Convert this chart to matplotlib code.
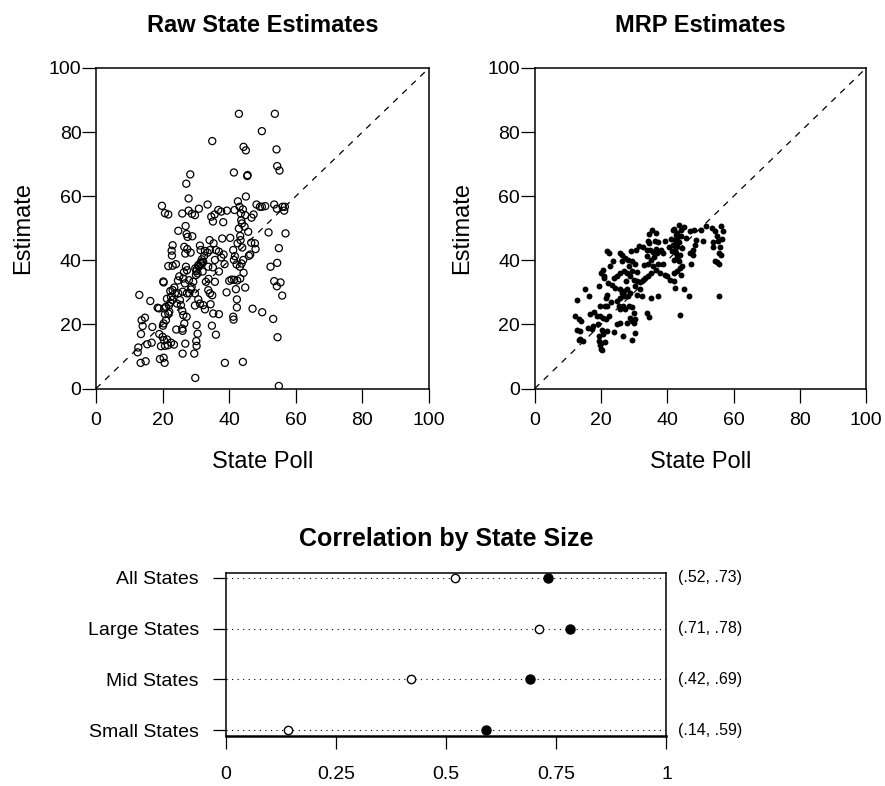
import numpy as np
import matplotlib.pyplot as plt

plt.rcParams['font.family'] = ['Liberation Sans', 'DejaVu Sans']

# Raw state estimates: state poll (x) vs raw estimate (y)
raw_poll = [42.9, 53.7, 49.8, 34.9, 44.3, 45.0, 54.2, 54.4, 55.1, 41.4, 45.4, 45.5, 28.3, 27.1, 27.8,
            45.0, 19.8, 20.7, 21.7, 25.9, 27.8, 28.8, 29.7, 30.9, 33.5, 34.6, 35.6, 36.7, 37.6, 38.2,
            39.3, 35.1, 41.6, 42.6, 43.1, 43.5, 44.1, 44.8, 47.3, 46.7, 48.2, 49.2, 49.8, 50.8, 53.5,
            54.3, 56.0, 56.7, 56.5, 56.9, 51.8, 54.9, 54.4, 52.4, 53.5, 54.3, 55.4, 55.9, 53.2, 54.5,
            54.9, 24.7, 26.9, 27.2, 27.5, 23.0, 22.7, 22.8, 21.7, 23.0, 24.0, 26.5, 26.8, 27.4, 28.4,
            31.2, 31.4, 32.5, 31.8, 31.4, 30.7, 29.8, 30.1, 30.5, 32.7, 33.5, 34.2, 34.1, 35.3, 36.0,
            36.9, 37.9, 35.7, 35.1, 36.9, 38.6, 37.6, 38.3, 41.2, 41.7, 41.4, 42.2, 43.2, 43.7, 44.2,
            42.5, 43.3, 43.4, 42.9, 43.8, 43.6, 45.7, 46.6, 47.7, 47.9, 45.9, 46.3, 44.3, 43.3, 42.4,
            40.7, 40.0, 41.5, 44.8, 20.2, 20.3, 24.6, 26.2, 26.4, 27.3, 27.0, 26.7, 26.0, 25.2, 25.5,
            25.9, 26.2, 27.2, 26.5, 25.9, 26.0, 30.2, 30.5, 30.1, 30.2, 29.5, 26.8, 26.0, 24.1, 23.0,
            22.3, 22.5, 22.3, 21.9, 21.0, 20.7, 21.0, 20.3, 20.1, 19.0, 20.0, 20.4, 21.3, 21.6, 22.5,
            23.4, 19.5, 20.7, 19.2, 20.6, 20.3, 18.5, 18.9, 20.5, 21.7, 16.3, 13.0, 13.7, 14.7, 14.0,
            13.5, 16.9, 15.4, 16.7, 12.7, 12.5, 13.4, 14.9, 29.7, 30.7, 31.2, 32.2, 29.7, 32.7, 33.7,
            34.2, 34.9, 34.4, 35.2, 36.9, 34.8, 36.0, 39.2, 41.2, 41.3, 42.3, 42.3, 47.0, 49.9, 38.7,
            44.1, 29.8, 32.2, 33.7, 35.7, 33.8, 33.0, 30.0, 29.2, 27.9, 28.7, 28.0, 27.3, 28.5, 24.7,
            23.7, 22.9, 30.2, 30.9, 31.5, 31.9, 21.3, 22.0, 23.5, 24.3, 25.0, 28.9, 32.0, 43.9, 44.6,
            40.3, 42.0]
raw_est = [85.7, 85.7, 80.3, 77.2, 75.4, 74.3, 74.6, 69.4, 68.0, 67.4, 66.3, 66.6, 66.8, 63.9, 59.3,
           59.9, 57.0, 54.7, 54.3, 54.6, 55.5, 54.5, 54.1, 56.1, 57.4, 53.6, 54.3, 55.7, 55.2, 51.9,
           55.5, 52.1, 55.7, 58.4, 56.7, 54.6, 55.9, 54.1, 54.3, 53.3, 57.4, 56.7, 56.7, 56.9, 57.4,
           56.1, 56.7, 56.7, 55.5, 48.4, 48.7, 43.8, 39.2, 38.0, 33.5, 31.9, 33.1, 29.0, 21.7, 16.0,
           0.8, 49.2, 50.7, 48.2, 47.3, 44.7, 43.0, 41.5, 38.2, 38.3, 38.8, 44.2, 42.1, 43.5, 42.4,
           44.6, 43.2, 41.4, 40.3, 39.3, 38.5, 37.5, 36.6, 35.9, 42.9, 42.4, 43.2, 46.3, 45.3, 43.2,
           42.7, 46.8, 40.1, 37.8, 36.5, 38.8, 40.9, 41.8, 43.2, 41.3, 40.1, 38.7, 38.0, 39.0, 40.1,
           45.3, 47.6, 46.3, 49.9, 51.5, 52.5, 48.9, 45.5, 45.3, 43.5, 41.4, 41.8, 36.1, 34.3, 33.7,
           34.0, 33.6, 33.9, 31.5, 33.4, 33.1, 33.7, 34.3, 36.3, 36.9, 38.0, 32.8, 30.2, 27.6, 26.0,
           24.2, 22.9, 22.4, 20.3, 18.7, 18.0, 19.8, 17.1, 14.8, 13.3, 10.9, 14.0, 10.9, 18.4, 30.7,
           30.4, 28.6, 26.8, 25.9, 25.5, 23.2, 21.3, 20.3, 19.6, 17.0, 16.1, 15.1, 15.3, 13.5, 14.3,
           13.7, 13.2, 13.3, 9.2, 8.0, 9.6, 25.2, 25.0, 25.0, 23.4, 27.3, 29.2, 21.3, 22.1, 19.5,
           17.0, 19.2, 13.8, 14.3, 12.8, 11.3, 8.0, 8.5, 29.7, 27.8, 26.5, 26.0, 25.9, 24.7, 30.7,
           29.7, 29.1, 26.3, 23.4, 23.2, 19.6, 16.8, 30.0, 22.4, 21.5, 27.8, 25.3, 24.9, 23.8, 8.0,
           8.3, 3.3, 39.5, 38.0, 33.3, 34.2, 33.3, 35.4, 33.3, 33.8, 31.7, 29.7, 29.7, 30.9, 29.7,
           29.7, 27.6, 37.1, 38.0, 38.8, 39.5, 28.0, 24.0, 31.5, 26.5, 35.0, 47.5, 36.5, 44.0, 50.5,
           47.0, 31.0]

# MRP estimates: state poll (x) vs MRP estimate (y)
mrp_poll = [43.4, 42.1, 41.6, 44.9, 42.9, 44.1, 42.4, 43.6, 43.0, 42.2, 41.3, 42.7, 43.9, 41.9, 43.4,
            44.4, 42.9, 42.1, 44.1, 45.1, 42.3, 43.9, 41.6, 42.6, 43.3, 44.5, 46.9, 48.1, 50.1, 51.7,
            50.9, 48.6, 48.2, 47.6, 46.7, 47.8, 47.1, 46.5, 53.6, 54.5, 56.1, 56.7, 56.4, 54.9, 55.4,
            53.9, 55.9, 53.9, 54.3, 54.9, 55.7, 55.6, 56.2, 55.6, 35.5, 36.7, 34.5, 34.1, 34.5, 36.3,
            37.1, 39.4, 36.6, 38.0, 38.7, 36.8, 35.8, 34.8, 33.8, 32.8, 31.6, 30.5, 29.0, 33.8, 35.0,
            34.3, 35.8, 36.6, 37.3, 38.8, 39.3, 39.8, 40.8, 41.9, 37.8, 35.0, 34.3, 33.4, 32.8, 31.8,
            30.8, 29.8, 28.8, 27.8, 26.8, 25.8, 24.9, 23.9, 23.2, 22.2, 20.9, 19.9, 20.5, 22.7, 23.5,
            21.9, 22.5, 25.8, 26.4, 27.3, 28.0, 26.3, 28.3, 29.3, 30.4, 29.4, 30.3, 31.8, 32.4, 30.8,
            35.0, 37.3, 33.8, 34.6, 28.8, 27.8, 26.8, 25.6, 26.3, 27.0, 28.0, 25.8, 24.7, 21.9, 21.5,
            19.5, 15.1, 16.4, 12.7, 25.3, 25.8, 26.6, 27.3, 28.3, 29.3, 29.8, 28.8, 29.3, 30.3, 30.0,
            27.8, 25.6, 24.9, 22.3, 21.4, 20.6, 19.7, 21.9, 21.2, 19.7, 18.9, 16.7, 13.5, 14.0, 12.1,
            12.7, 13.7, 17.2, 17.7, 19.2, 20.2, 20.5, 21.9, 23.9, 19.5, 19.4, 20.1, 21.3, 19.7, 19.9,
            20.3, 26.5, 29.2, 30.1, 13.7, 14.5, 13.3, 43.0, 42.5, 44.0, 41.0, 40.5, 45.5, 43.8, 42.8,
            21.0, 24.2, 27.5, 31.0, 33.0, 36.0, 38.2, 23.0, 18.0, 16.0]
mrp_est = [50.9, 49.7, 49.5, 50.3, 48.5, 47.5, 46.4, 45.6, 44.4, 43.3, 42.8, 42.3, 41.8, 40.2, 39.7,
           38.1, 36.6, 36.1, 35.5, 31.1, 31.4, 22.9, 44.9, 48.0, 41.2, 43.8, 49.0, 49.3, 49.3, 50.6,
           46.1, 46.4, 44.9, 43.1, 42.3, 41.8, 39.0, 28.8, 50.1, 49.0, 50.6, 49.2, 46.7, 47.5, 45.9,
           45.6, 44.0, 44.1, 39.9, 39.4, 38.8, 42.3, 41.8, 28.9, 49.3, 48.5, 48.3, 45.9, 45.4, 45.9,
           45.6, 45.9, 43.6, 43.3, 42.3, 42.3, 42.5, 43.1, 43.3, 44.1, 44.4, 43.3, 42.8, 41.2, 40.2,
           39.0, 38.1, 37.1, 39.0, 38.7, 35.5, 35.0, 34.0, 33.5, 36.1, 36.1, 35.0, 34.5, 34.0, 33.2,
           33.5, 34.0, 35.0, 36.1, 36.6, 36.1, 35.0, 34.5, 32.4, 33.0, 34.5, 36.1, 36.9, 38.1, 39.7,
           42.8, 42.3, 42.3, 41.5, 40.7, 40.2, 39.7, 38.1, 36.6, 38.7, 39.7, 31.9, 30.9, 28.8, 29.3,
           28.3, 28.8, 23.6, 22.4, 29.8, 30.9, 30.4, 30.9, 29.8, 28.8, 29.0, 28.3, 27.3, 29.3, 28.3,
           32.1, 30.9, 28.8, 27.5, 25.7, 24.9, 25.7, 24.7, 25.7, 25.5, 23.6, 22.1, 21.0, 21.8, 20.5,
           20.5, 20.5, 20.0, 22.6, 21.6, 22.1, 22.6, 25.7, 25.9, 25.7, 22.6, 23.1, 21.8, 21.0, 22.6,
           18.4, 17.9, 18.7, 19.5, 20.0, 18.2, 16.9, 17.9, 17.6, 16.4, 14.8, 14.3, 14.5, 13.5, 12.4,
           11.9, 16.4, 15.1, 17.4, 15.3, 14.8, 15.0, 47.0, 46.0, 49.5, 46.5, 44.0, 47.0, 37.5, 41.0,
           35.0, 31.5, 33.5, 36.5, 38.5, 41.0, 43.0, 27.0, 24.0, 19.0]

# Correlation by state size
groups = ['All States', 'Large States', 'Mid States', 'Small States']
corr_raw = [0.52, 0.71, 0.42, 0.14]
corr_mrp = [0.73, 0.78, 0.69, 0.59]

fig = plt.figure(figsize=(8.85, 7.86), dpi=100)

ax1 = fig.add_axes([0.1085, 0.5057, 0.3763, 0.4078])
ax2 = fig.add_axes([0.6042, 0.5057, 0.3746, 0.4078])


def style_scatter(ax, title):
    ax.plot([0, 100], [0, 100], color='black', linestyle=(0, (5, 5)), linewidth=0.9)
    ax.set_xlim(0, 100)
    ax.set_ylim(0, 100)
    ax.set_xticks([0, 20, 40, 60, 80, 100])
    ax.set_yticks([0, 20, 40, 60, 80, 100])
    ax.tick_params(axis='both', direction='out', length=10, width=0.9, labelsize=14)
    ax.tick_params(axis='x', pad=7)
    ax.tick_params(axis='y', pad=0.5)
    for s in ax.spines.values():
        s.set_linewidth(1.1)
    ax.set_title(title, fontsize=17, fontweight='bold', pad=26)
    ax.set_xlabel('State Poll', fontsize=17)
    ax.set_ylabel('Estimate', fontsize=17)
    ax.xaxis.set_label_coords(0.5, -0.195)
    ax.yaxis.set_label_coords(-0.186, 0.5)


ax1.scatter(raw_poll, raw_est, s=26, facecolors='none', edgecolors='black', linewidths=0.9, zorder=3)
style_scatter(ax1, 'Raw State Estimates')

ax2.scatter(mrp_poll, mrp_est, s=18, color='black', linewidths=0, zorder=3)
style_scatter(ax2, 'MRP Estimates')

# Dot chart
ax3 = fig.add_axes([0.2554, 0.064, 0.4977, 0.2074])
ypos = np.arange(len(groups))[::-1] + 1
for y in ypos:
    ax3.axhline(y, color='black', linestyle=(0, (1, 4)), linewidth=0.8, zorder=1)
ax3.plot(corr_raw, ypos, 'o', markersize=6, markerfacecolor='white', markeredgecolor='black',
         markeredgewidth=1.0, linestyle='none', zorder=3)
ax3.plot(corr_mrp, ypos, 'o', markersize=6.5, color='black', linestyle='none', zorder=3)
for y, r, m in zip(ypos, corr_raw, corr_mrp):
    lab = '(' + ('%.2f' % r)[1:] + ', ' + ('%.2f' % m)[1:] + ')'
    ax3.annotate(lab, xy=(1, y), xycoords=('axes fraction', 'data'), xytext=(8, 0),
                 textcoords='offset points', ha='left', va='center', fontsize=11.5)
ax3.set_xlim(0, 1)
ax3.set_ylim(0.894, 4.098)
ax3.set_xticks([0, 0.25, 0.5, 0.75, 1])
ax3.set_xticklabels(['0', '0.25', '0.5', '0.75', '1'])
ax3.set_yticks(ypos)
ax3.set_yticklabels(groups)
ax3.tick_params(axis='both', direction='out', length=9.5, width=0.9, labelsize=14)
ax3.tick_params(axis='x', pad=12)
ax3.tick_params(axis='y', pad=10)
for s in ax3.spines.values():
    s.set_linewidth(1.1)
ax3.spines['bottom'].set_linewidth(1.8)
ax3.set_title('Correlation by State Size', fontsize=18, fontweight='bold', pad=19)

fig.savefig('out.png', dpi=100)
